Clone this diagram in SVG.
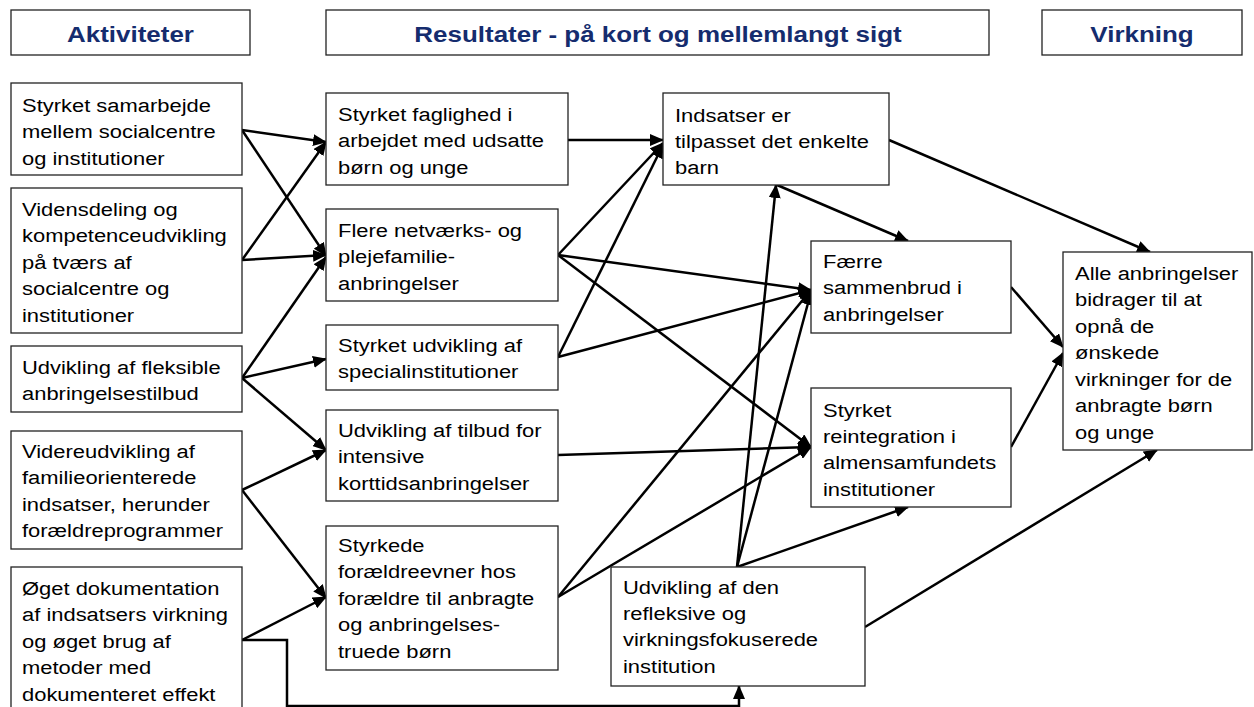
<svg xmlns="http://www.w3.org/2000/svg" width="1254" height="707" viewBox="0 0 1254 707">
<style>
.box{fill:#fff;stroke:#222;stroke-width:1.3}
.t{font-family:"Liberation Sans",Arial,sans-serif;font-size:18.6px;fill:#000}
.h{font-family:"Liberation Sans",Arial,sans-serif;font-size:22px;font-weight:bold;fill:#152c6e;text-anchor:middle}
.c{stroke:#000;stroke-width:2.5;fill:none;marker-end:url(#ah)}
</style>
<defs>
<marker id="ah" markerUnits="userSpaceOnUse" markerWidth="14" markerHeight="12" refX="13" refY="6" orient="auto">
<path d="M0,0 L14,6 L0,12 z" fill="#000"/>
</marker>
</defs>
<rect width="1254" height="707" fill="#fff"/>

<g id="header-aktiviteter"><rect class="box" x="11" y="10" width="239" height="45"/><text class="h" transform="translate(130.5 42) scale(1.18 1)">Aktiviteter</text></g>
<g id="header-resultater"><rect class="box" x="326" y="10" width="663" height="45"/><text class="h" transform="translate(658 42) scale(1.18 1)">Resultater - på kort og mellemlangt sigt</text></g>
<g id="header-virkning"><rect class="box" x="1042" y="10" width="200" height="45"/><text class="h" transform="translate(1142 42) scale(1.18 1)">Virkning</text></g>

<g id="connectors">
<path class="c" d="M242,130 L326,142"/>
<path class="c" d="M242,130 L326,256"/>
<path class="c" d="M242,260 L326,142"/>
<path class="c" d="M242,260 L326,255"/>
<path class="c" d="M242,378 L326,257"/>
<path class="c" d="M242,378 L326,359"/>
<path class="c" d="M242,378 L326,450"/>
<path class="c" d="M242,490 L326,450"/>
<path class="c" d="M242,490 L326,598"/>
<path class="c" d="M242,640 L326,597"/>
<path class="c" d="M242,640 H287 V706 H739 V686"/>
<path class="c" d="M568,140 L663,140"/>
<path class="c" d="M558,255 L663,143"/>
<path class="c" d="M558,357 L663,145"/>
<path class="c" d="M558,255 L811,290"/>
<path class="c" d="M558,255 L811,447"/>
<path class="c" d="M558,357 L811,290"/>
<path class="c" d="M558,455 L811,447"/>
<path class="c" d="M558,597 L811,290"/>
<path class="c" d="M558,597 L811,447"/>
<path class="c" d="M737,567 L776,185"/>
<path class="c" d="M737,567 L811,292"/>
<path class="c" d="M737,567 L908,507"/>
<path class="c" d="M777,185 L908,241"/>
<path class="c" d="M889,140 L1150,252"/>
<path class="c" d="M1011,287 L1063,347"/>
<path class="c" d="M1011,447 L1063,353"/>
<path class="c" d="M865,627 L1157,450"/>
</g>

<g id="a1"><rect class="box" x="11" y="83" width="231" height="92"/><text class="t" transform="translate(22 112) scale(1.18 1)"><tspan x="0" y="0">Styrket samarbejde</tspan><tspan x="0" y="26.5">mellem socialcentre</tspan><tspan x="0" y="53">og institutioner</tspan></text></g>
<g id="a2"><rect class="box" x="11" y="188" width="231" height="145"/><text class="t" transform="translate(22 216) scale(1.18 1)"><tspan x="0" y="0">Vidensdeling og</tspan><tspan x="0" y="26.5">kompetenceudvikling</tspan><tspan x="0" y="53">på tværs af</tspan><tspan x="0" y="79.5">socialcentre og</tspan><tspan x="0" y="106">institutioner</tspan></text></g>
<g id="a3"><rect class="box" x="11" y="346" width="231" height="66"/><text class="t" transform="translate(22 374) scale(1.18 1)"><tspan x="0" y="0">Udvikling af fleksible</tspan><tspan x="0" y="26.5">anbringelsestilbud</tspan></text></g>
<g id="a4"><rect class="box" x="11" y="431" width="231" height="118"/><text class="t" transform="translate(22 458) scale(1.18 1)"><tspan x="0" y="0">Videreudvikling af</tspan><tspan x="0" y="26.5">familieorienterede</tspan><tspan x="0" y="53">indsatser, herunder</tspan><tspan x="0" y="79.5">forældreprogrammer</tspan></text></g>
<g id="a5"><rect class="box" x="11" y="567" width="231" height="150"/><text class="t" transform="translate(22 595) scale(1.18 1)"><tspan x="0" y="0">Øget dokumentation</tspan><tspan x="0" y="26.5">af indsatsers virkning</tspan><tspan x="0" y="53">og øget brug af</tspan><tspan x="0" y="79.5">metoder med</tspan><tspan x="0" y="106">dokumenteret effekt</tspan></text></g>

<g id="m1"><rect class="box" x="326" y="93" width="242" height="92"/><text class="t" transform="translate(338 121) scale(1.18 1)"><tspan x="0" y="0">Styrket faglighed i</tspan><tspan x="0" y="26.5">arbejdet med udsatte</tspan><tspan x="0" y="53">børn og unge</tspan></text></g>
<g id="m2"><rect class="box" x="326" y="209" width="232" height="92"/><text class="t" transform="translate(338 237) scale(1.18 1)"><tspan x="0" y="0">Flere netværks- og</tspan><tspan x="0" y="26.5">plejefamilie-</tspan><tspan x="0" y="53">anbringelser</tspan></text></g>
<g id="m3"><rect class="box" x="326" y="325" width="232" height="65"/><text class="t" transform="translate(338 352) scale(1.18 1)"><tspan x="0" y="0">Styrket udvikling af</tspan><tspan x="0" y="26.5">specialinstitutioner</tspan></text></g>
<g id="m4"><rect class="box" x="326" y="410" width="232" height="91"/><text class="t" transform="translate(338 437) scale(1.18 1)"><tspan x="0" y="0">Udvikling af tilbud for</tspan><tspan x="0" y="26.5">intensive</tspan><tspan x="0" y="53">korttidsanbringelser</tspan></text></g>
<g id="m5"><rect class="box" x="326" y="526" width="232" height="144"/><text class="t" transform="translate(338 552) scale(1.18 1)"><tspan x="0" y="0">Styrkede</tspan><tspan x="0" y="26.5">forældreevner hos</tspan><tspan x="0" y="53">forældre til anbragte</tspan><tspan x="0" y="79.5">og anbringelses-</tspan><tspan x="0" y="106">truede børn</tspan></text></g>

<g id="r1"><rect class="box" x="663" y="93" width="226" height="92"/><text class="t" transform="translate(675 121.5) scale(1.18 1)"><tspan x="0" y="0">Indsatser er</tspan><tspan x="0" y="26.5">tilpasset det enkelte</tspan><tspan x="0" y="53">barn</tspan></text></g>
<g id="r2"><rect class="box" x="811" y="241" width="200" height="92"/><text class="t" transform="translate(823 268) scale(1.18 1)"><tspan x="0" y="0">Færre</tspan><tspan x="0" y="26.5">sammenbrud i</tspan><tspan x="0" y="53">anbringelser</tspan></text></g>
<g id="r3"><rect class="box" x="811" y="388" width="200" height="119"/><text class="t" transform="translate(823 416.5) scale(1.18 1)"><tspan x="0" y="0">Styrket</tspan><tspan x="0" y="26.5">reintegration i</tspan><tspan x="0" y="53">almensamfundets</tspan><tspan x="0" y="79.5">institutioner</tspan></text></g>
<g id="r4"><rect class="box" x="611" y="567" width="254" height="119"/><text class="t" transform="translate(623 593.5) scale(1.18 1)"><tspan x="0" y="0">Udvikling af den</tspan><tspan x="0" y="26.5">refleksive og</tspan><tspan x="0" y="53">virkningsfokuserede</tspan><tspan x="0" y="79.5">institution</tspan></text></g>
<g id="v1"><rect class="box" x="1063" y="252" width="189" height="198"/><text class="t" transform="translate(1075 280) scale(1.18 1)"><tspan x="0" y="0">Alle anbringelser</tspan><tspan x="0" y="26.5">bidrager til at</tspan><tspan x="0" y="53">opnå de</tspan><tspan x="0" y="79.5">ønskede</tspan><tspan x="0" y="106">virkninger for de</tspan><tspan x="0" y="132.5">anbragte børn</tspan><tspan x="0" y="159">og unge</tspan></text></g>
</svg>
